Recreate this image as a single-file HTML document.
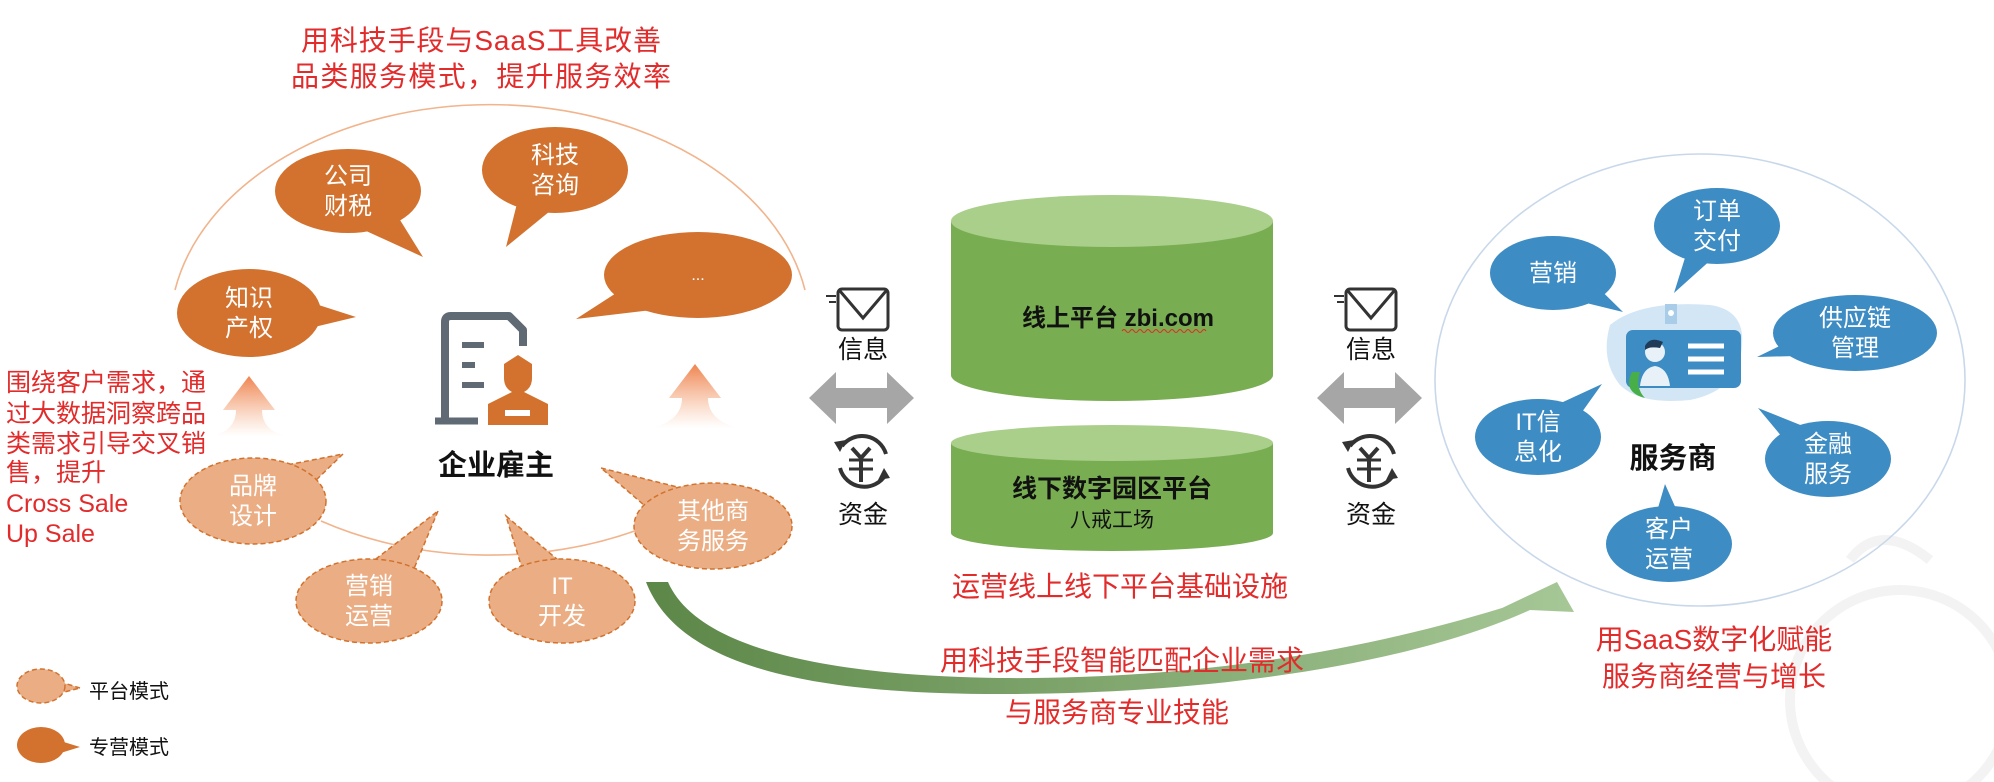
<!DOCTYPE html>
<html><head><meta charset="utf-8"><style>
html,body{margin:0;padding:0;background:#fff;}
svg{display:block;font-family:"Liberation Sans","Noto Sans CJK SC",sans-serif;}
</style></head><body>
<svg width="1994" height="782" viewBox="0 0 1994 782" xmlns="http://www.w3.org/2000/svg">
<defs>
<linearGradient id="up" x1="0" y1="1" x2="0" y2="0">
<stop offset="0" stop-color="#f3a77a" stop-opacity="0"/>
<stop offset="1" stop-color="#ef8450"/>
</linearGradient>
<linearGradient id="gr" x1="0" y1="0" x2="1" y2="0">
<stop offset="0" stop-color="#5c8748"/>
<stop offset="1" stop-color="#a6c796"/>
</linearGradient>
</defs>

<!-- watermark -->
<g fill="none" stroke="#f3f3f3" stroke-width="10">
<circle cx="1900" cy="700" r="110"/>
<path d="M1850 560 Q1880 520 1930 560"/>
</g>

<!-- titles -->
<g fill="#e22b2b" font-size="28">
<text x="481" y="50" text-anchor="middle" textLength="360">用科技手段与SaaS工具改善</text>
<text x="481" y="86" text-anchor="middle" textLength="380">品类服务模式，提升服务效率</text>
</g>

<!-- arcs -->
<path d="M175 290 A320 225 0 0 1 805 290" fill="none" stroke="#f1b48c" stroke-width="1.6"/>
<path d="M321 521 A320 225 0 0 0 640 529" fill="none" stroke="#f1b48c" stroke-width="1.6"/>

<!-- up arrows -->
<path d="M249 376 L275 410 L262 410 Q262 430 285 436 L213 436 Q236 430 236 410 L223 410 Z" fill="url(#up)"/>
<path d="M695 364 L721 398 L708 398 Q708 420 738 428 L652 428 Q682 420 682 398 L669 398 Z" fill="url(#up)"/>

<!-- solid orange bubbles -->
<g fill="#d2722e">
<polygon points="356,317 248,343 250,283"/><ellipse cx="249" cy="313" rx="72" ry="44"/>
<polygon points="423,257 328,213.5 368,168.5"/><ellipse cx="348" cy="191" rx="73" ry="42"/>
<polygon points="506,247 529.6,153.8 580.4,186.2"/><ellipse cx="555" cy="170" rx="73" ry="43"/>
<polygon points="576,319 687.8,246.8 708.2,303.2"/><ellipse cx="698" cy="275" rx="94" ry="43"/>
<polygon points="80,747 41,735 41,759"/><ellipse cx="41" cy="745" rx="24" ry="18"/>
</g>
<!-- dashed bubbles -->
<g fill="#ebae84" stroke="#d2722e" stroke-width="1.5" stroke-dasharray="5,3">
<polygon points="343,454 266.9,527.6 239.1,474.4"/><ellipse cx="253" cy="501" rx="73" ry="43"/>
<polygon points="438,511 392.9,619.3 345.1,582.7"/><ellipse cx="369" cy="601" rx="73" ry="42"/>
<polygon points="506,516 587,584.5 537,617.5"/><ellipse cx="562" cy="601" rx="73" ry="42"/>
<polygon points="601,468 726.8,499.3 699.2,552.7"/><ellipse cx="713" cy="526" rx="79" ry="43"/>
<polygon points="80,688 41,676 41,698"/><ellipse cx="41" cy="686" rx="24" ry="17"/>
</g>
<g fill="#fff" font-size="24" text-anchor="middle">
<text x="249" y="306">知识</text><text x="249" y="336">产权</text>
<text x="348" y="184">公司</text><text x="348" y="214">财税</text>
<text x="555" y="163">科技</text><text x="555" y="193">咨询</text>
<text x="698" y="280" font-size="16">...</text>
<text x="253" y="494">品牌</text><text x="253" y="524">设计</text>
<text x="369" y="594">营销</text><text x="369" y="624">运营</text>
<text x="562" y="594">IT</text><text x="562" y="624">开发</text>
<text x="713" y="519">其他商</text><text x="713" y="549">务服务</text>
</g>
<g font-size="20" fill="#111">
<text x="89" y="698">平台模式</text>
<text x="89" y="754">专营模式</text>
</g>

<!-- building icon -->
<g>
<path d="M445 420 V322 Q445 316 451 316 H509 L523 330 V346" fill="none" stroke="#5f6a74" stroke-width="8" stroke-linejoin="round"/>
<line x1="435" y1="421" x2="478" y2="421" stroke="#5f6a74" stroke-width="7"/>
<line x1="462" y1="345" x2="484" y2="345" stroke="#5f6a74" stroke-width="6"/>
<line x1="462" y1="365" x2="475" y2="365" stroke="#5f6a74" stroke-width="6"/>
<line x1="462" y1="385" x2="484" y2="385" stroke="#5f6a74" stroke-width="6"/>
<path d="M518 355 L532 364 V378 Q532 388 524 392 L548 404 V425 H488 V404 L512 392 Q504 388 504 378 V364 Z" fill="#d2722e"/>
<rect x="505" y="410" width="25" height="6" fill="#fff"/>
</g>
<text x="496" y="475" font-size="29" font-weight="bold" text-anchor="middle" fill="#111">企业雇主</text>

<!-- left red text -->
<g fill="#e22b2b" font-size="25">
<text x="6" y="391">围绕客户需求，通</text>
<text x="6" y="422">过大数据洞察跨品</text>
<text x="6" y="452">类需求引导交叉销</text>
<text x="6" y="481">售，提升</text>
<text x="6" y="512">Cross Sale</text>
<text x="6" y="542">Up Sale</text>
</g>

<!-- info/money icons -->
<g id="ic">
<g fill="none" stroke="#333" stroke-width="3">
<rect x="838" y="289" width="50" height="41" rx="4"/>
<polyline points="840,291 863,318 886,291"/>
<line x1="826" y1="296" x2="836" y2="296" stroke-width="2"/>
<line x1="829" y1="302" x2="836" y2="302" stroke-width="2"/>
</g>
<text x="863" y="358" font-size="25" text-anchor="middle" fill="#111">信息</text>
<path d="M809 398 L836 372 V388 H887 V372 L914 398 L887 424 V408 H836 V424 Z" fill="#a6a6a6"/>
<g fill="none" stroke="#333" stroke-width="4">
<path d="M842 446 A25 25 0 0 1 886 454"/>
<path d="M886 474 A25 25 0 0 1 840 468"/>
<line x1="852" y1="448" x2="861" y2="458"/><line x1="870" y1="448" x2="861" y2="458"/>
<line x1="849" y1="460" x2="873" y2="460" stroke-width="3"/><line x1="849" y1="469" x2="873" y2="469" stroke-width="3"/>
<line x1="861" y1="458" x2="861" y2="482"/>
</g>
<polygon points="834,442 846,440 840,452" fill="#333"/>
<polygon points="890,478 878,480 884,468" fill="#333"/>
<text x="863" y="523" font-size="25" text-anchor="middle" fill="#111">资金</text>
</g>
<use href="#ic" x="508"/>

<!-- cylinders -->
<path d="M951 221 V375 A161 26 0 0 0 1273 375 V221 Z" fill="#78ad52"/>
<ellipse cx="1112" cy="221" rx="161" ry="26" fill="#a9cf8a"/>
<path d="M951 443 V533 A161 18 0 0 0 1273 533 V443 Z" fill="#78ad52"/>
<ellipse cx="1112" cy="443" rx="161" ry="18" fill="#a9cf8a"/>
<text x="1118" y="326" font-size="24" font-weight="bold" text-anchor="middle" fill="#111">线上平台 zbi.com</text>
<path d="M1122 331 q2 -3 4 0 t4 0 t4 0 t4 0 t4 0 t4 0 t4 0 t4 0 t4 0 t4 0 t4 0 t4 0 t4 0 t4 0 t4 0 t4 0 t4 0 t4 0 t4 0 t4 0 t4 0" fill="none" stroke="#e22" stroke-width="1"/>
<text x="1112" y="497" font-size="25" font-weight="bold" text-anchor="middle" fill="#111">线下数字园区平台</text>
<text x="1112" y="527" font-size="21" text-anchor="middle" fill="#111">八戒工场</text>
<text x="1120" y="596" font-size="28" text-anchor="middle" fill="#e22b2b">运营线上线下平台基础设施</text>

<!-- green curve arrow -->
<path d="M646 582 L668 582 C700 655 850 676 1000 678 C1230 680 1400 640 1515 604 L1500 609 L1557 582 L1574 612 L1530 610 C1420 660 1230 694 1000 694 C820 694 680 670 646 582 Z" fill="url(#gr)"/>
<text x="1122" y="670" font-size="28" text-anchor="middle" fill="#e22b2b">用科技手段智能匹配企业需求</text>
<text x="1117" y="722" font-size="28" text-anchor="middle" fill="#e22b2b">与服务商专业技能</text>

<!-- right circle -->
<ellipse cx="1700" cy="380" rx="265" ry="226" fill="none" stroke="#c8d8ea" stroke-width="1.6"/>
<!-- badge icon -->
<g>
<path d="M1610 325 Q1640 300 1710 305 Q1745 310 1742 345 Q1740 390 1690 400 Q1640 405 1620 385 Q1600 360 1610 325 Z" fill="#d3e6f5"/>
<rect x="1665" y="304" width="12" height="20" fill="#a9cde8"/>
<circle cx="1671" cy="313" r="3" fill="#fff"/>
<rect x="1626" y="330" width="115" height="58" rx="7" fill="#3d8cc4"/>
<line x1="1688" y1="346" x2="1724" y2="346" stroke="#fff" stroke-width="5"/>
<line x1="1688" y1="359" x2="1724" y2="359" stroke="#fff" stroke-width="5"/>
<line x1="1688" y1="372" x2="1724" y2="372" stroke="#fff" stroke-width="5"/>
<circle cx="1655" cy="352" r="10" fill="#e8f1f8"/>
<path d="M1645 346 Q1650 336 1663 342 L1660 348 Q1650 346 1645 350 Z" fill="#1f3b57"/>
<path d="M1640 386 Q1642 368 1655 366 Q1668 368 1670 386 Z" fill="#e8f1f8"/>
<path d="M1632 372 Q1622 392 1645 398 Q1635 388 1640 372 Z" fill="#48ae48"/>
</g>
<g fill="#3d8cc4">
<polygon points="1623,312 1542.3,292.3 1563.7,253.7"/><ellipse cx="1553" cy="273" rx="63" ry="37"/>
<polygon points="1674,293 1698.6,214.2 1735.4,237.8"/><ellipse cx="1717" cy="226" rx="63" ry="38"/>
<polygon points="1757,357 1849.8,311.7 1860.2,354.3"/><ellipse cx="1855" cy="333" rx="82" ry="38"/>
<polygon points="1602,384 1552,454 1524,420"/><ellipse cx="1538" cy="437" rx="63" ry="38"/>
<polygon points="1758,408 1840.9,441.3 1815.1,476.7"/><ellipse cx="1828" cy="459" rx="63" ry="38"/>
<polygon points="1665,484 1691,542.5 1647,545.5"/><ellipse cx="1669" cy="544" rx="63" ry="38"/>
</g>
<g fill="#fff" font-size="24" text-anchor="middle">
<text x="1553" y="281">营销</text>
<text x="1717" y="219">订单</text><text x="1717" y="249">交付</text>
<text x="1855" y="326">供应链</text><text x="1855" y="356">管理</text>
<text x="1538" y="430">IT信</text><text x="1538" y="460">息化</text>
<text x="1828" y="452">金融</text><text x="1828" y="482">服务</text>
<text x="1669" y="537">客户</text><text x="1669" y="567">运营</text>
</g>
<text x="1673" y="468" font-size="29" font-weight="bold" text-anchor="middle" fill="#111">服务商</text>
<g fill="#e22b2b" font-size="28" text-anchor="middle">
<text x="1714" y="649">用SaaS数字化赋能</text>
<text x="1714" y="686">服务商经营与增长</text>
</g>
</svg>
</body></html>
